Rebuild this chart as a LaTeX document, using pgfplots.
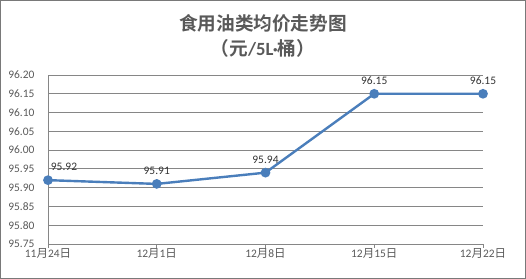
\documentclass[border=0pt]{standalone}
\usepackage{pgfplots}
\pgfplotsset{compat=1.18}
\usepackage{fontspec}
\setmainfont{Carlito}
\newfontfamily\cjk{Noto Sans CJK SC}
\newfontfamily\cjkb{Noto Sans CJK SC Bold}
\definecolor{txt}{HTML}{595959}
\definecolor{grd}{HTML}{868686}
\definecolor{ln}{HTML}{4A7EBB}
\newcommand{\yue}{{\cjk 月}}
\newcommand{\ri}{{\cjk 日}}
\begin{document}
\begin{tikzpicture}
\draw[color=grd!90!black, line width=1bp] (0.5bp,0.5bp) rectangle (525.5bp,278.5bp);
\node[text=txt, font=\cjkb\fontsize{18.7}{20}\selectfont] at (263bp,256bp) {食用油类均价走势图};
\node[text=txt, font=\cjkb\fontsize{18.7}{20}\selectfont] at (263bp,231bp) {（元{\rmfamily\bfseries/5L·}桶）};
\begin{axis}[
  at={(48bp,35bp)}, anchor=south west,
  scale only axis, width=435bp, height=169bp,
  xmin=0, xmax=4, ymin=95.75, ymax=96.20,
  ytick={95.75,95.80,...,96.21},
  xtick={0,1,2,3,4},
  xticklabels={11\yue24\ri, 12\yue1\ri, 12\yue8\ri, 12\yue15\ri, 12\yue22\ri},
  axis lines=left, axis line style={-, draw=grd, line width=0.8bp},
  ymajorgrids, grid style={draw=grd, line width=0.8bp},
  ytick style={draw=none},
  xtick style={draw=grd, line width=0.8bp},
  xtick align=outside, major tick length=4bp,
  /pgf/number format/assume math mode=true,
  yticklabel style={xshift=-8bp, /pgf/number format/.cd, fixed, fixed zerofill, precision=2},
  xticklabel style={yshift=3bp},
  ticklabel style={text=txt, font=\fontsize{11.5}{13}\selectfont},
  clip=false,
]
\addplot[color=ln, line width=2.4bp, mark=*, mark size=3.6bp, mark options={fill=ln, draw=ln}]
  coordinates {(0,95.92) (1,95.91) (2,95.94) (3,96.15) (4,96.15)};
\addplot[draw=none, nodes near coords, point meta=y,
  every node near coord/.append style={anchor=south, yshift=6bp, text=black!80, font=\fontsize{11.5}{13}\selectfont, /pgf/number format/.cd, fixed, fixed zerofill, precision=2}]
  coordinates {(1,95.91) (2,95.94) (3,96.15) (4,96.15)};
\addplot[draw=none, nodes near coords, point meta=y,
  every node near coord/.append style={anchor=south, xshift=16bp, yshift=6bp, text=black!80, font=\fontsize{11.5}{13}\selectfont, /pgf/number format/.cd, fixed, fixed zerofill, precision=2}]
  coordinates {(0,95.92)};
\end{axis}
\end{tikzpicture}
\end{document}
